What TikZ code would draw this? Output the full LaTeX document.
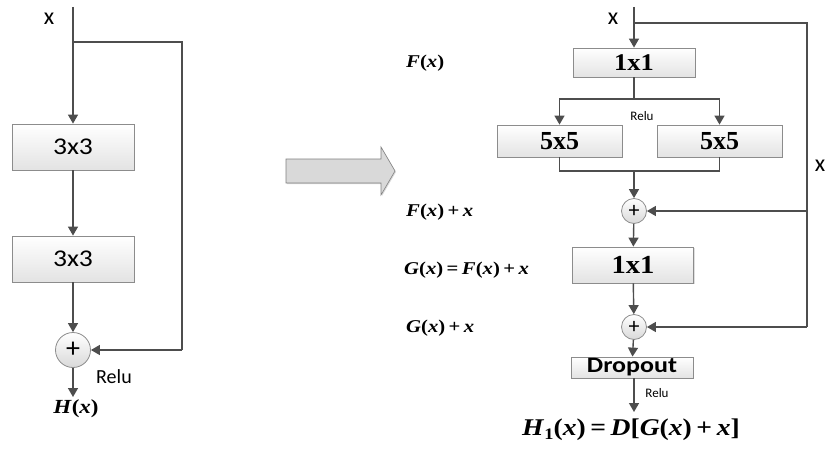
\documentclass[tikz,border=0pt]{standalone}
\usepackage{fontspec}
\setmainfont{Liberation Serif}
\setsansfont{Carlito}
\usepackage{graphicx}
\usepackage{tikz}
\usetikzlibrary{positioning,shapes,shadows,arrows.meta}
\definecolor{lineclr}{HTML}{4D4D4D}
\definecolor{boxedge}{HTML}{8C8C8C}
\newcommand{\bvar}[1]{\textbf{\textit{#1}}}
\newcommand{\fsz}[1]{\fontsize{#1}{#1}\selectfont}
\newcommand{\hs}[2][1.15]{\scalebox{#1}[1]{#2}}

\begin{document}
\begin{tikzpicture}[
			x=1pt, y=-1pt,
			conn/.style = {draw=lineclr, line width=1.4pt,
				-{Triangle[width=10pt,length=9pt]}},
			wire/.style = {draw=lineclr, line width=1.4pt},
			blk/.style = {rectangle, draw=boxedge, line width=0.8pt,
				inner sep=0pt, top color=white, bottom color=gray!22,
				drop shadow={shadow xshift=1.2pt, shadow yshift=-1.2pt, opacity=0.25}},
			sumnode/.style = {circle, draw=boxedge, line width=0.8pt,
				inner sep=0pt, top color=white, bottom color=gray!30},
			lbl/.style = {inner sep=0pt, anchor=west, font=\fsz{18}}]
			\useasboundingbox (0,0) rectangle (827,452);
			
			% left block
			\node[blk, minimum width=122pt, minimum height=46pt,
				font=\sffamily\fsz{24}] (lb1) at (73,147) {\hs{3x3}};
			\node[blk, minimum width=122pt, minimum height=46pt,
				font=\sffamily\fsz{24}] (lb2) at (73,259) {\hs{3x3}};
			\node[sumnode, minimum size=35pt, font=\sffamily\fsz{28}] (lsum) at (73,350) {+};
			\coordinate (ltop) at (73,7);
			\coordinate (lsplit) at (73,42);
			\coordinate (lc1) at (182,42);
			\coordinate (lc2) at (182,350);
			\coordinate (lend) at (73,397);
			\draw[conn] (ltop) -- (lb1);
			\draw[conn] (lb1) -- (lb2);
			\draw[conn] (lb2) -- (lsum);
			\draw[conn] (lsum) -- (lend);
			\draw[wire] (lsplit) -- (lc1) -- (lc2);
			\draw[conn] (lc2) -- (lsum);
			\node[font=\sffamily\fsz{24}] (lx) at (49,19) {x};
			\node[font=\sffamily\fsz{20}] (lrelu) at (114,377) {Relu};
			\node[font=\fsz{20}] (lout) at (76,409) {\hs{\textbf{\bvar{H}(\bvar{x})}}};
			
			% big arrow
			\draw[draw=gray, fill=gray!30, line width=0.6pt,
				drop shadow={shadow xshift=1pt, shadow yshift=-1pt, opacity=0.3}]
				(286,159) -- (381,159) -- (381,147) -- (395,171)
				-- (381,195) -- (381,183) -- (286,183) -- cycle;
			
			% right block
			\node[blk, minimum width=122pt, minimum height=29pt,
				font=\bfseries\fsz{24}] (ra) at (634,62.5) {\hs[1.1]{1x1}};
			\node[blk, minimum width=125pt, minimum height=32pt,
				font=\bfseries\fsz{26}] (r5l) at (559.5,141) {5x5};
			\node[blk, minimum width=125pt, minimum height=32pt,
				font=\bfseries\fsz{26}] (r5r) at (719.5,141) {5x5};
			\node[sumnode, minimum size=25pt, font=\sffamily\fsz{22}] (rsum1) at (634,211) {+};
			\node[blk, minimum width=121pt, minimum height=36pt,
				font=\bfseries\fsz{26}] (rb) at (633,265) {\hs[1.1]{1x1}};
			\node[sumnode, minimum size=25pt, font=\sffamily\fsz{22}] (rsum2) at (634,327) {+};
			\node[blk, minimum width=122pt, minimum height=21pt,
				text height=14pt, text depth=4pt,
				font=\sffamily\bfseries\fsz{22}] (rdrop) at (632,367.5) {\hs[1.18]{Dropout}};
			\coordinate (rtop) at (634,7);
			\coordinate (rsplit) at (634,23);
			\coordinate (rc1) at (807,23);
			\coordinate (rc2) at (807,211);
			\coordinate (rc3) at (807,327);
			\coordinate (rfork) at (634,99);
			\coordinate (rjoin) at (634,171);
			\coordinate (rend) at (634,412);
			\draw[conn] (rtop) -- (ra);
			\draw[wire] (ra) -- (rfork);
			\draw[conn] (rfork) -| (r5l);
			\draw[conn] (rfork) -| (r5r);
			\draw[wire] (r5l) |- (rjoin);
			\draw[wire] (r5r) |- (rjoin);
			\draw[conn] (rjoin) -- (rsum1);
			\draw[conn] (rsum1) -- (rb);
			\draw[conn] (rb) -- (rsum2);
			\draw[conn] (rsum2) -- (rdrop);
			\draw[conn] (rdrop.south -| rend) -- (rend);
			\draw[wire] (rsplit) -- (rc1) -- (rc3);
			\draw[conn] (rc3) -- (rsum2);
			\draw[conn] (rc2) -- (rsum1);
			\node[font=\sffamily\fsz{24}] (rx) at (613,19) {x};
			\node[font=\sffamily\fsz{24}] (rx2) at (820,166) {x};
			\node[font=\sffamily\fsz{13}] (rrelu1) at (642,116) {Relu};
			\node[font=\sffamily\fsz{13}] (rrelu2) at (657,393) {Relu};
			\node[font=\fsz{24}] (rout) at (631,430)
				{\hs{\textbf{\bvar{H}\raisebox{-0.35ex}{\fsz{16}1}(\bvar{x})\,=\,\bvar{D}[\bvar{G}(\bvar{x})\,+\,\bvar{x}]}}};
			
			% left labels
			\node[lbl] (lf) at (406,63) {\hs{\textbf{\bvar{F}(\bvar{x})}}};
			\node[lbl] (lfx) at (406,212) {\hs{\textbf{\bvar{F}(\bvar{x})\,+\,\bvar{x}}}};
			\node[lbl] (lg) at (404,270) {\hs{\textbf{\bvar{G}(\bvar{x})\,=\,\bvar{F}(\bvar{x})\,+\,\bvar{x}}}};
			\node[lbl] (lgx) at (406,328) {\hs{\textbf{\bvar{G}(\bvar{x})\,+\,\bvar{x}}}};
\end{tikzpicture}
\end{document}
